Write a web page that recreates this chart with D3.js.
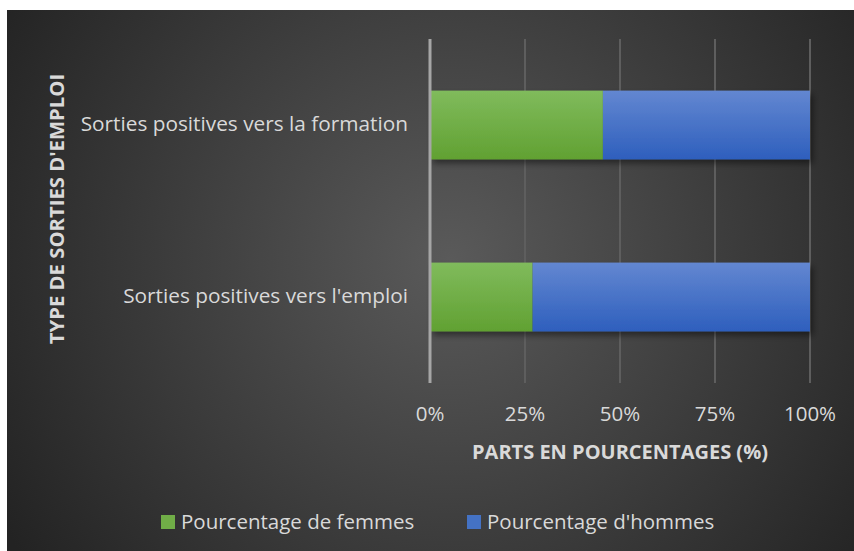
<!DOCTYPE html>
<html>
<head>
<meta charset="utf-8">
<script src="https://cdn.jsdelivr.net/npm/d3@7"></script>
<style>
  body { margin: 0; background: #fff; }
  svg { display: block; font-family: 'Open Sans', 'Noto Sans', sans-serif; }
</style>
</head>
<body>
<svg id="chart" width="854" height="551"></svg>
<script>
const categories = ['Sorties positives vers la formation', "Sorties positives vers l'emploi"]
const femmes = [45.5, 27]
const hommes = [54.5, 73]
const seriesNames = ['Pourcentage de femmes', "Pourcentage d'hommes"]
const tickValues = [0, 25, 50, 75, 100]

const svg = d3.select('#chart')
const defs = svg.append('defs')

const bg = defs.append('radialGradient')
  .attr('id', 'bg').attr('gradientUnits', 'userSpaceOnUse')
  .attr('cx', 450).attr('cy', 260).attr('r', 520)
bg.append('stop').attr('offset', '0%').attr('stop-color', '#5a5a5a')
bg.append('stop').attr('offset', '100%').attr('stop-color', '#232323')

function barGradient (id, top, bottom) {
  const g = defs.append('linearGradient').attr('id', id)
    .attr('x1', 0).attr('y1', 0).attr('x2', 0).attr('y2', 1)
  g.append('stop').attr('offset', '0%').attr('stop-color', top)
  g.append('stop').attr('offset', '100%').attr('stop-color', bottom)
}
barGradient('gGreen', '#80bb5c', '#61a132')
barGradient('gBlue', '#6387d1', '#2e5fbd')

const shadow = defs.append('filter').attr('id', 'shadow')
  .attr('x', '-5%').attr('y', '-10%').attr('width', '115%').attr('height', '140%')
shadow.append('feDropShadow').attr('dx', 3).attr('dy', 4).attr('stdDeviation', 3)
  .attr('flood-color', '#000').attr('flood-opacity', 0.45)

svg.append('rect').attr('x', 7).attr('y', 10).attr('width', 847).attr('height', 541)
  .attr('fill', 'url(#bg)')

const x = d3.scaleLinear().domain([0, 100]).range([430, 810])
const y = d3.scaleBand().domain(categories).range([39, 383]).paddingInner(0.6).paddingOuter(0.3)

// grid
svg.append('g').selectAll('line')
  .data(tickValues.slice(1))
  .join('line')
  .attr('x1', d => x(d)).attr('x2', d => x(d))
  .attr('y1', 39).attr('y2', 383)
  .attr('stroke', '#5e5e5e').attr('stroke-width', 2)

const colors = ['url(#gGreen)', 'url(#gBlue)']
const legendColors = ['#70ad47', '#4472c4']

const rows = categories.map((c, i) => ({ cat: c, f: femmes[i], h: hommes[i] }))
const barG = svg.append('g').attr('filter', 'url(#shadow)')
barG.selectAll('rect.f').data(rows).join('rect')
  .attr('x', x(0)).attr('y', d => y(d.cat))
  .attr('width', d => x(d.f) - x(0)).attr('height', y.bandwidth())
  .attr('fill', colors[0])
barG.selectAll('rect.h').data(rows).join('rect')
  .attr('x', d => x(d.f)).attr('y', d => y(d.cat))
  .attr('width', d => x(d.f + d.h) - x(d.f)).attr('height', y.bandwidth())
  .attr('fill', colors[1])

// zero axis line
svg.append('line')
  .attr('x1', x(0)).attr('x2', x(0)).attr('y1', 39).attr('y2', 383)
  .attr('stroke', '#a6a6a6').attr('stroke-width', 3)

// category labels
svg.append('g').selectAll('text').data(categories).join('text')
  .attr('x', 408).attr('y', d => y(d) + y.bandwidth() / 2 - 1)
  .attr('dy', '0.35em').attr('text-anchor', 'end')
  .attr('fill', '#d9d9d9').attr('font-size', 20.8)
  .text(d => d)

// x tick labels
svg.append('g').selectAll('text').data(tickValues).join('text')
  .attr('x', d => x(d)).attr('y', 421)
  .attr('text-anchor', 'middle')
  .attr('fill', '#d9d9d9').attr('font-size', 20.5)
  .text(d => d + '%')

svg.append('text')
  .attr('x', 620).attr('y', 459).attr('text-anchor', 'middle')
  .attr('fill', '#d9d9d9').attr('font-size', 20).attr('font-weight', 'bold')
  .text('PARTS EN POURCENTAGES (%)')

svg.append('text')
  .attr('transform', 'translate(64,209) rotate(-90)')
  .attr('text-anchor', 'middle')
  .attr('fill', '#d9d9d9').attr('font-size', 20.3).attr('font-weight', 'bold')
  .text("TYPE DE SORTIES D'EMPLOI")

// legend
const legendX = [161, 467]
const leg = svg.append('g').selectAll('g').data(seriesNames).join('g')
  .attr('transform', (d, i) => `translate(${legendX[i]},515)`)
leg.append('rect').attr('width', 14).attr('height', 14)
  .attr('fill', (d, i) => legendColors[i])
leg.append('text').attr('x', 20).attr('y', 7).attr('dy', '0.35em')
  .attr('fill', '#d9d9d9').attr('font-size', 20.5)
  .text(d => d)
</script>
</body>
</html>
